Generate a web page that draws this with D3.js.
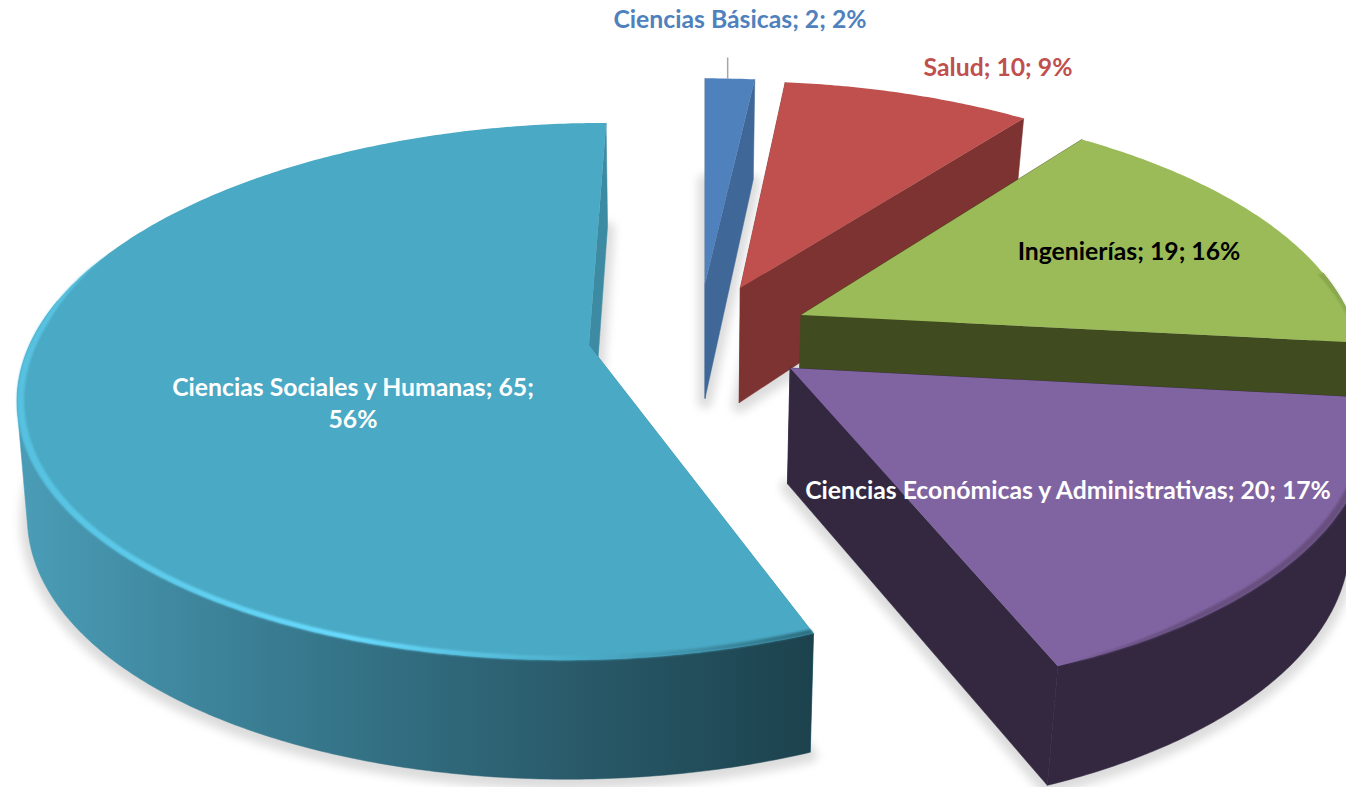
<!DOCTYPE html>
<html>
<head>
<meta charset="utf-8">
<script src="https://cdn.jsdelivr.net/npm/d3@7"></script>
<style>
    html, body { margin: 0; padding: 0; background: #fff; overflow: hidden; }
    text { font-family: Lato, "Open Sans", sans-serif; font-weight: 700; }
</style>
</head>
<body>
<div id="chart"></div>
<script>
// Data
var categories = ["Ciencias Básicas", "Salud", "Ingenierías", "Ciencias Económicas y Administrativas", "Ciencias Sociales y Humanas"];
var values = [2, 10, 19, 20, 65];
var percents = ["2%", "9%", "16%", "17%", "56%"];

// Colours of each slice
var topColors = ["#4f81bd", "#c0504d", "#9bbb59", "#8064a2", "#4aa9c4"];
var sideColors = ["#3f6797", "#7d3331", "#404b20", "#332840", "#3d8ba3"];
var rimColors = [null, null, "#87a54c", "#67507f", "url(#rimTeal)"];
var labelColors = ["#4f81bd", "#c0504d", "#000", "#fff", "#fff"];

// How far each slice is pulled out of the pie, in pie radius units
var explodeX = [0, 0.0655, 0.1751, 0.1497, -0.2074];
var explodeY = [-0.2707, -0.2541, -0.1442, 0.0602, -0.0267];

// Label centre and first baseline
var labelX = [740, 998, 1129, 1068, 353];
var labelY = [28, 76, 260, 499, 396];

function init() {
    var w = 1346;
    var h = 787;

    // Perspective set up: tilt is how much closer the front edge gets
    var tilt = 0.174;
    var x = d3.scaleLinear().domain([-1, 1]).range([705 - 562, 705 + 562]);
    var y = d3.scaleLinear().domain([-1, 1]).range([352 - 263, 352 + 263]);
    // Height of the wall, measured at the back, middle and front of the pie
    var depth = d3.scaleLinear().domain([0.82, 0.96, 1.2]).range([100, 115, 119]);

    function project(px, py, pz) {
        var s = 1 / (1 - tilt * py);
        // The lower rim pulls in a little, more on the right than on the left
        var sx = x(px * s);
        var pull = px * s < 0 ? 0.015 : 0.03;
        return [
            sx + (x(0) - sx) * pull * pz,
            y(py * s) + pz * depth(s)
        ];
    }

    var svg = d3.select("#chart")
                .append("svg")
                .attr("width", w)
                .attr("height", h)
                .style("display", "block");

    var defs = svg.append("defs");

    defs.append("filter")
        .attr("id", "shadowBlur")
        .attr("filterUnits", "userSpaceOnUse")
        .attr("x", 0).attr("y", 0).attr("width", w).attr("height", h)
        .append("feGaussianBlur")
        .attr("stdDeviation", 5);

    defs.append("filter")
        .attr("id", "rimBlur")
        .attr("filterUnits", "userSpaceOnUse")
        .attr("x", 0).attr("y", 0).attr("width", w).attr("height", h)
        .append("feGaussianBlur")
        .attr("stdDeviation", 1.1);

    // Teal outer wall darkens from left to right
    var wallTeal = defs.append("linearGradient")
        .attr("id", "wallTeal")
        .attr("gradientUnits", "userSpaceOnUse")
        .attr("x1", 25).attr("x2", 812).attr("y1", 0).attr("y2", 0);
    [[0, "#4a9cb6"], [0.25, "#3c8298"], [0.5, "#316b7e"], [0.75, "#275665"], [1, "#1c424d"]].forEach(function(s) {
        wallTeal.append("stop").attr("offset", s[0]).attr("stop-color", s[1]);
    });

    var rimTeal = defs.append("linearGradient")
        .attr("id", "rimTeal")
        .attr("gradientUnits", "userSpaceOnUse")
        .attr("x1", 25).attr("x2", 812).attr("y1", 0).attr("y2", 0);
    [[0, "#57c1e0"], [0.41, "#68dcff"], [0.73, "#4aa9c4"], [0.86, "#3d8ea6"], [1, "#2c6c7e"]].forEach(function(s) {
        rimTeal.append("stop").attr("offset", s[0]).attr("stop-color", s[1]);
    });

    var pie = d3.pie().sort(null);
    var arcs = pie(values);
    var line = d3.line();

    // Points of the outer arc of a slice between two angles
    function arcPoints(i, a0, a1, r, z) {
        var n = Math.max(2, Math.ceil((a1 - a0) / 0.01));
        return d3.range(n + 1).map(function(k) {
            var a = a0 + (a1 - a0) * k / n;
            var rr = typeof r === "function" ? r(a) : r;
            return project(explodeX[i] + rr * Math.sin(a), explodeY[i] - rr * Math.cos(a), z);
        });
    }

    function apex(i, z) {
        return project(explodeX[i], explodeY[i], z);
    }

    // Soft shadows of the bottom faces go under everything
    var shadows = svg.append("g")
        .attr("transform", "translate(0,3)")
        .attr("filter", "url(#shadowBlur)");

    arcs.forEach(function(d, i) {
        shadows.append("path")
            .attr("d", line([apex(i, 1)].concat(arcPoints(i, d.startAngle, d.endAngle, 1, 1))) + "Z")
            .attr("fill", "#dcdcdc")
            .attr("stroke", "#dcdcdc")
            .attr("stroke-width", 14)
            .attr("stroke-linejoin", "round");
    });

    var slices = svg.selectAll("g.slice")
        .data(arcs)
        .enter()
        .append("g")
        .attr("class", "slice");

    slices.each(function(d, i) {
        var g = d3.select(this);

        // The two cut faces
        [d.startAngle, d.endAngle].forEach(function(a) {
            var edge = arcPoints(i, a, a, 1, 0)[0];
            var edgeLow = arcPoints(i, a, a, 1, 1)[0];
            g.append("path")
                .attr("d", line([apex(i, 0), edge, edgeLow, apex(i, 1)]) + "Z")
                .attr("fill", sideColors[i])
                .attr("stroke", sideColors[i])
                .attr("stroke-width", 0.5);
        });

        // Outer wall, only the part that faces the viewer. A hull gives the
        // straight silhouette between the top rim and the lower rim
        var a0 = Math.max(d.startAngle, Math.PI * 80 / 180);
        var a1 = Math.min(d.endAngle, Math.PI * 280 / 180);
        if (a1 > a0) {
            var upper = arcPoints(i, a0, a1, 1, 0);
            var lower = arcPoints(i, a0, a1, 1, 1);
            g.append("path")
                .attr("d", line(d3.polygonHull(upper.concat(lower))) + "Z")
                .attr("fill", i === 4 ? "url(#wallTeal)" : sideColors[i])
                .attr("stroke", i === 4 ? "url(#wallTeal)" : sideColors[i])
                .attr("stroke-width", 0.5);
        }

        // Top face
        g.append("path")
            .attr("d", line([apex(i, 0)].concat(arcPoints(i, d.startAngle, d.endAngle, 1, 0))) + "Z")
            .attr("fill", topColors[i]);

        // Bevel along the rim, a thin band that tapers out toward the back
        if (rimColors[i] && a1 > a0) {
            var r0 = Math.max(d.startAngle, 1.4);
            var r1 = Math.min(d.endAngle, Math.PI * 292 / 180);
            var inner = function(a) {
                return 1 - 0.012 * Math.min(1, (r1 - a) / 0.3);
            };
            g.append("path")
                .attr("d", line(arcPoints(i, r0, r1, 1, 0).concat(arcPoints(i, r0, r1, inner, 0).reverse())) + "Z")
                .attr("fill", rimColors[i])
                .attr("filter", "url(#rimBlur)");
        }
    });

    // Leader line of the smallest slice
    var top = arcPoints(0, arcs[0].startAngle, arcs[0].endAngle, 1, 0);
    var leader = top[Math.floor(top.length * 0.45)];
    svg.append("line")
        .attr("x1", leader[0]).attr("x2", leader[0])
        .attr("y1", leader[1]).attr("y2", leader[1] - 21)
        .attr("stroke", "#a6a6a6")
        .attr("stroke-width", 1.5);

    // Labels: "category; value; percent", the long teal one wraps
    categories.forEach(function(c, i) {
        var text = svg.append("text")
            .attr("x", labelX[i])
            .attr("y", labelY[i])
            .attr("text-anchor", "middle")
            .attr("font-size", 24.75)
            .attr("fill", labelColors[i]);
        if (i === 4) {
            text.append("tspan").text(c + "; " + values[i] + ";");
            text.append("tspan")
                .attr("x", labelX[i])
                .attr("dy", 32)
                .text(percents[i]);
        } else {
            text.text(c + "; " + values[i] + "; " + percents[i]);
        }
    });
}

window.onload = init;
</script>
</body>
</html>
